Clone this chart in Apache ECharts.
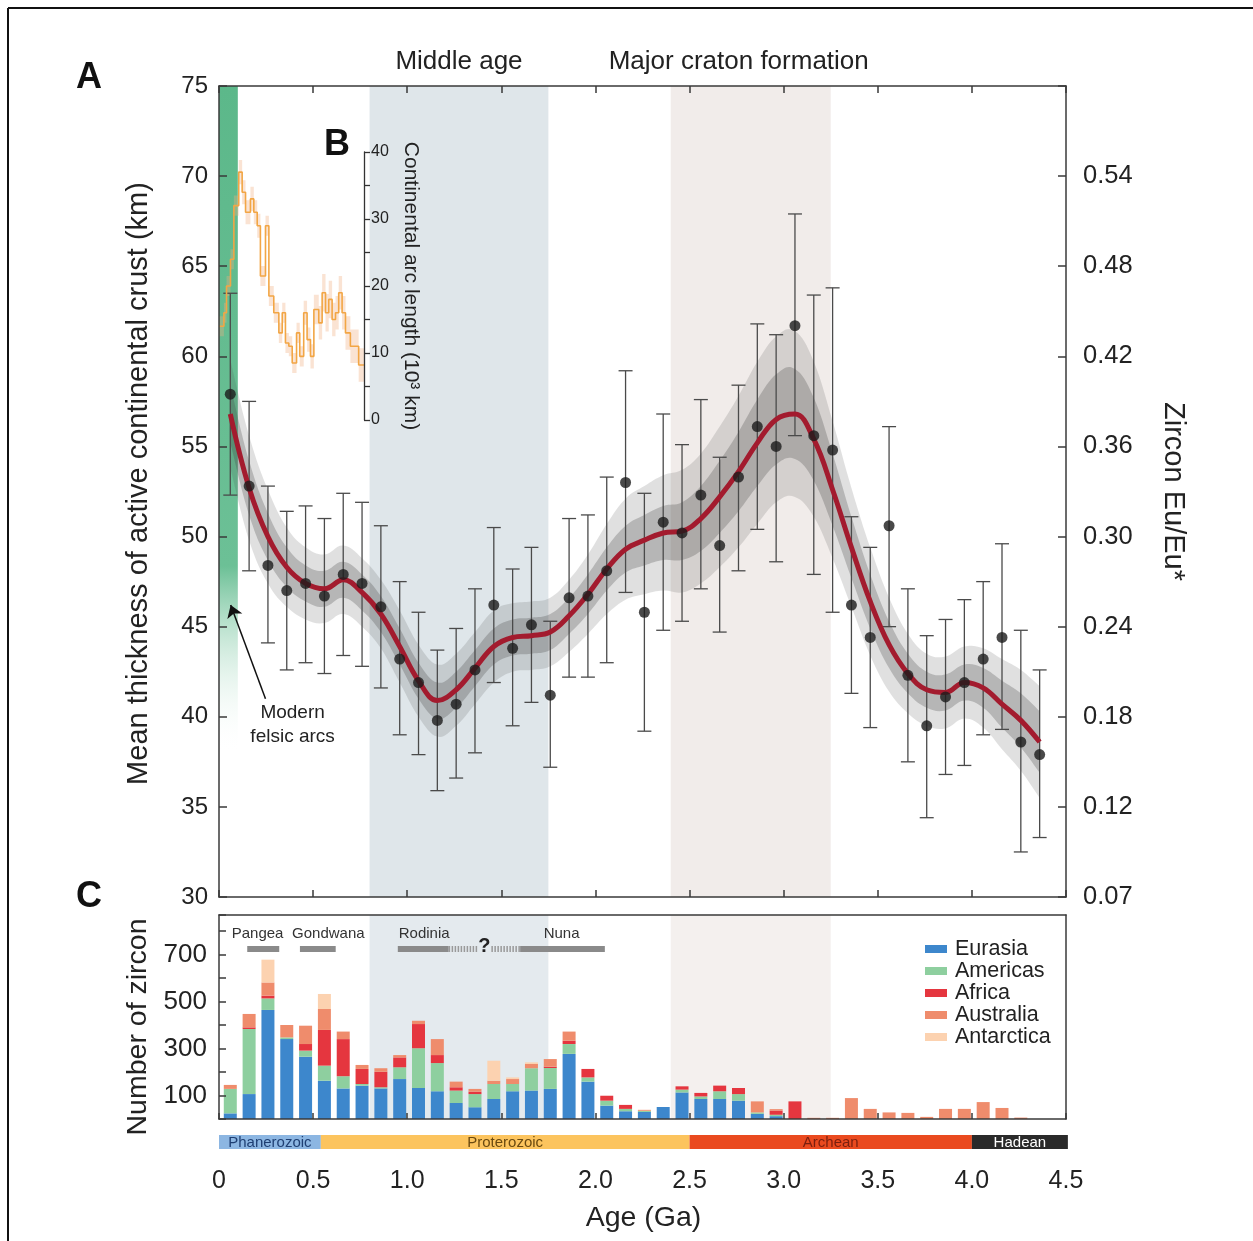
<!DOCTYPE html>
<html><head><meta charset="utf-8">
<script src="https://cdn.jsdelivr.net/npm/echarts@6/dist/echarts.min.js"></script>
<style>html,body{margin:0;padding:0;background:#fff}#c{width:1253px;height:1241px}</style>
</head><body><div id="c"></div><script>
// ---------- DATA ----------
const ages = [0.06,0.16,0.26,0.36,0.46,0.56,0.66,0.76,0.86,0.96,1.06,1.16,1.26,1.36,1.46,1.56,1.66,1.76,1.86,1.96,2.06,2.16,2.26,2.36,2.46,2.56,2.66,2.76,2.86,2.96,3.06,3.16,3.26,3.36,3.46,3.56,3.66,3.76,3.86,3.96,4.06,4.16,4.26,4.36];
const thickness = [57.9,52.8,48.4,47.0,47.4,46.7,47.9,47.4,46.1,43.2,41.9,39.8,40.7,42.6,46.2,43.8,45.1,41.2,46.6,46.7,48.1,53.0,45.8,50.8,50.2,52.3,49.5,53.3,56.1,55.0,61.7,55.6,54.8,46.2,44.4,50.6,42.3,39.5,41.1,41.9,43.2,44.4,38.6,37.9];
const errHigh = [63.5,57.5,52.8,51.4,51.7,51.0,52.4,51.9,50.6,47.5,45.8,43.7,44.9,47.1,50.5,48.2,49.4,45.3,51.0,51.2,53.3,59.2,52.4,56.8,55.1,57.6,54.4,58.4,61.8,61.2,67.9,63.4,63.8,51.1,49.4,56.1,47.1,44.5,45.4,46.5,47.5,49.6,44.8,42.6];
const errLow = [52.3,48.1,44.1,42.6,43.0,42.4,43.4,42.8,41.6,39.0,37.9,35.9,36.6,38.0,41.9,39.5,40.8,37.2,42.2,42.2,43.0,46.9,39.2,44.8,45.3,47.1,44.7,48.1,50.4,48.6,55.6,47.9,45.8,41.3,39.4,45.0,37.5,34.4,36.8,37.3,39.0,39.3,32.5,33.3];
const trend = [56.8,52.7,50.0,48.3,47.4,47.1,47.6,46.9,45.7,43.9,42.0,40.9,41.5,42.7,43.9,44.4,44.5,44.7,45.6,46.8,48.2,49.3,49.8,50.2,50.3,51.0,52.2,53.6,55.2,56.5,56.8,55.4,52.6,49.4,46.4,44.0,42.4,41.5,41.35,41.9,41.6,40.7,39.8,38.6];
const innerHalf = [1.6,1.5,1.3,1.1,1.0,1.0,1.0,1.0,1.0,1.0,1.0,1.0,1.0,1.0,1.0,1.0,1.0,1.0,1.0,1.1,1.2,1.3,1.4,1.5,1.6,1.8,2.0,2.2,2.4,2.5,2.5,2.3,2.0,1.7,1.5,1.3,1.1,1.0,1.0,1.0,1.1,1.3,1.5,1.7];
const outerHalf = [3.0,2.9,2.6,2.2,2.0,1.9,1.9,1.9,1.9,2.0,2.0,2.0,2.0,2.0,2.0,1.9,1.9,1.9,2.0,2.2,2.5,2.8,3.0,3.2,3.4,3.6,3.9,4.2,4.5,4.6,4.6,4.3,3.8,3.3,3.0,2.6,2.2,2.0,2.0,2.0,2.2,2.5,2.8,3.1];
const yLeftTicks = [30,35,40,45,50,55,60,65,70,75];
const euTickLabels = ['0.07','0.12','0.18','0.24','0.30','0.36','0.42','0.48','0.54',''];

// inset B: continental arc length (10^3 km)
const arcAge = [0.0,0.026,0.04,0.061,0.079,0.105,0.123,0.141,0.167,0.185,0.203,0.22,0.247,0.265,0.291,0.318,0.336,0.353,0.371,0.389,0.412,0.429,0.45,0.468,0.486,0.504,0.53,0.548,0.566,0.583,0.601,0.619,0.636,0.654,0.672,0.698,0.742,0.77];
const arcLen = [14,16,20,24,32,37,34,31,33,31,29,21.5,29,18.5,16,13,16,11.5,11,8.5,13,9.5,16,12,9.5,16.5,14.5,19,16,18,15,16,19,16,13,11,8.2,8.2];
const arcHalf = [1.5,1.5,1.5,1.5,1.5,1.8,1.8,1.8,1.8,1.8,1.8,1.5,1.5,1.5,1.5,1.5,1.5,1.5,1.5,1.5,1.5,1.5,1.8,1.8,1.8,2.2,2.5,2.8,2.8,2.8,2.5,2.5,2.5,2.5,2.5,2.5,2.5,2.5];
const arcTicks = [0,10,20,30,40];

// panel C: number of zircon per continent
const eurasia   = [24,106,464,340,265,163,130,142,130,170,132,118,68,50,85,118,121,128,277,159,57,33,30,51,113,85,85,78,22,12,0,0,0,0,0,0,0,0,0,0,0,0,0,0];
const americas  = [104,277,49,7,26,64,52,7,5,50,169,120,53,56,64,31,95,89,42,18,21,10,5,0,12,11,33,28,6,6,0,0,0,0,0,0,0,0,0,0,0,0,0,0];
const africa    = [0,7,12,0,28,152,158,64,66,42,103,34,14,10,0,0,0,6,14,36,21,17,0,0,14,15,24,26,0,18,75,0,0,0,0,0,0,0,0,0,0,0,0,0];
const australia = [17,57,56,53,78,89,32,17,15,10,14,68,24,12,14,21,18,32,39,0,0,0,4,0,0,0,0,0,47,6,0,5,5,89,43,28,26,9,43,43,72,47,6,0];
const antarctica= [0,0,97,0,0,64,0,0,0,0,0,0,0,0,85,7,7,0,0,0,0,0,0,0,0,0,0,0,0,0,0,0,0,0,0,0,0,0,0,0,0,0,0,0];
const continents = ['Eurasia','Americas','Africa','Australia','Antarctica'];
const zirconTickLabels = [100,300,500,700];

// supercontinents
const superNames = ['Pangea','Gondwana','Rodinia','Nuna'];
const superStart = [0.15,0.43,0.95,1.60];
const superEnd   = [0.32,0.62,1.22,2.05];
const superLabelX = [0.205,0.581,1.09,1.82];
const uncertainSpan = [1.22,1.60];

// geological eons
const eonNames = ['Phanerozoic','Proterozoic','Archean','Hadean'];
const eonStart = [0,0.541,2.5,4.0];
const eonEnd   = [0.541,2.5,4.0,4.51];

// shaded periods
const modernArcs = [0,0.1];
const middleAge = [0.8,1.75];
const cratonFormation = [2.4,3.25];
const xTickLabels = ['0','0.5','1.0','1.5','2.0','2.5','3.0','3.5','4.0','4.5'];

// ---------- STYLE ----------
const FONT = 'Liberation Sans, Arial, Helvetica, sans-serif';
const NARROW = 'Liberation Sans Narrow, Liberation Sans, Arial, sans-serif';
const frame = {color:'#3a3a3a', width:1.5};
const contColors = ['#3d87cc','#8ecf9f','#e5363f','#ef8c6c','#fcd2b0'];
const eonColors = ['#8cb6e2','#fcc45e','#ea4a1f','#2a2a2a'];
const eonText = ['#1f3f73','#6b4a10','#7a1f0f','#ffffff'];

const G0 = {left:219, top:86, width:847, height:811};
const G1 = {left:219, top:915, width:847, height:204};
const G2 = {left:219, top:1135, width:849, height:14};
const G3 = {left:219, top:152, width:145, height:268};

const pair = (xs, ys) => xs.map((x,i)=>[x, ys[i]]);

// smooth path helper (rendering only)
function bezier(pts, s){
  let d = '';
  for (let i=0;i<pts.length-1;i++){
    const p0 = pts[i-1]||pts[i], p1 = pts[i], p2 = pts[i+1], p3 = pts[i+2]||pts[i+1];
    const c1 = [p1[0]+(p2[0]-p0[0])*s, p1[1]+(p2[1]-p0[1])*s];
    const c2 = [p2[0]-(p3[0]-p1[0])*s, p2[1]-(p3[1]-p1[1])*s];
    d += ` C${c1[0]} ${c1[1]} ${c2[0]} ${c2[1]} ${p2[0]} ${p2[1]}`;
  }
  return d;
}

function bandSeries(half, color){
  return {
    type:'custom', xAxisIndex:0, yAxisIndex:0, z:2, silent:true,
    data: ages.map((a,i)=>[a, trend[i]-half[i], trend[i]+half[i]]),
    encode:{x:0, y:[1,2]},
    renderItem(params, api){
      if (params.dataIndex !== 0) return null;
      const up = ages.map((a,i)=>api.coord([a, trend[i]+half[i]]));
      const lo = ages.map((a,i)=>api.coord([a, trend[i]-half[i]])).reverse();
      const d = `M${up[0][0]} ${up[0][1]}` + bezier(up, 0.2) + ` L${lo[0][0]} ${lo[0][1]}` + bezier(lo, 0.2) + ' Z';
      return {type:'path', shape:{pathData:d}, style:{fill:color}};
    }
  };
}

const arcBandSeries = {
  type:'custom', xAxisIndex:5, yAxisIndex:5, z:2, silent:true,
  data: arcAge.map((a,i)=>[a, arcLen[i]-arcHalf[i], arcLen[i]+arcHalf[i]]),
  encode:{x:0, y:[1,2]},
  renderItem(params, api){
    if (params.dataIndex !== 0) return null;
    const n = arcAge.length;
    const up = [], lo = [];
    for (let i=0;i<n;i++){
      const xNext = i<n-1 ? arcAge[i+1] : arcAge[i];
      up.push(api.coord([arcAge[i], arcLen[i]+arcHalf[i]]));
      up.push(api.coord([xNext, arcLen[i]+arcHalf[i]]));
      lo.push(api.coord([arcAge[i], arcLen[i]-arcHalf[i]]));
      lo.push(api.coord([xNext, arcLen[i]-arcHalf[i]]));
    }
    return {type:'polygon', shape:{points: up.concat(lo.reverse())}, style:{fill:'rgba(240,175,130,0.35)'}};
  }
};

const errorBarSeries = {
  type:'custom', xAxisIndex:0, yAxisIndex:0, z:3, silent:true,
  data: ages.map((a,i)=>[a, errLow[i], errHigh[i]]),
  encode:{x:0, y:[1,2]},
  renderItem(params, api){
    const x = api.value(0);
    const p1 = api.coord([x, api.value(2)]);
    const p2 = api.coord([x, api.value(1)]);
    const w = 7, st = {stroke:'#4a4a4a', lineWidth:1.3};
    return {type:'group', children:[
      {type:'line', shape:{x1:p1[0],y1:p1[1],x2:p2[0],y2:p2[1]}, style:st},
      {type:'line', shape:{x1:p1[0]-w,y1:p1[1],x2:p1[0]+w,y2:p1[1]}, style:st},
      {type:'line', shape:{x1:p2[0]-w,y1:p2[1],x2:p2[0]+w,y2:p2[1]}, style:st}
    ]};
  }
};

const contData = [eurasia, americas, africa, australia, antarctica];
const barSeries = continents.map((c, k) => ({
  type:'custom', name:c, xAxisIndex:2, yAxisIndex:2, z:3, silent:true,
  itemStyle:{color:contColors[k]},
  data: ages.map((a,i)=>{
    let base = 0; for (let j=0;j<k;j++) base += contData[j][i];
    return [a, base, base + contData[k][i]];
  }),
  encode:{x:0, y:[1,2]},
  renderItem(params, api){
    const x = api.value(0), b = api.value(1), t = api.value(2);
    if (!(t > b)) return null;
    const p0 = api.coord([x, b]), p1 = api.coord([x, t]);
    return {type:'rect', shape:{x:p0[0]-6.5, y:p1[1], width:13, height:p0[1]-p1[1]}, style:{fill:contColors[k]}};
  }
}));

const superSeries = {
  type:'custom', xAxisIndex:2, yAxisIndex:2, z:4, silent:true,
  data: superNames.map((n,i)=>[superStart[i], superEnd[i], superLabelX[i], i]),
  renderItem(params, api){
    const i = api.value(3);
    const a = api.coord([api.value(0), 723]);
    const b = api.coord([api.value(1), 723]);
    const t = api.coord([api.value(2), 787]);
    const ch = [
      {type:'rect', shape:{x:a[0], y:a[1]-3, width:b[0]-a[0], height:6}, style:{fill:'#8a8a8a'}},
      {type:'text', style:{text:superNames[i], x:t[0], y:t[1], fill:'#333', fontSize:15, fontFamily:FONT, align:'center', verticalAlign:'middle', textAlign:'center', textVerticalAlign:'middle'}}
    ];
    if (i === 2) {
      const u0 = api.coord([uncertainSpan[0], 723]);
      const u1 = api.coord([uncertainSpan[1], 723]);
      const um = api.coord([(uncertainSpan[0]+uncertainSpan[1])/2, 735]);
      ch.push({type:'line', shape:{x1:u0[0], y1:u0[1], x2:um[0]-7, y2:u1[1]}, style:{stroke:'#9a9a9a', lineWidth:6, lineDash:[1.5,1.5]}});
      ch.push({type:'line', shape:{x1:um[0]+7, y1:u0[1], x2:u1[0], y2:u1[1]}, style:{stroke:'#9a9a9a', lineWidth:6, lineDash:[1.5,1.5]}});
      ch.push({type:'text', style:{text:'?', x:um[0], y:um[1], fill:'#222', fontSize:20, fontWeight:'bold', fontFamily:FONT, align:'center', verticalAlign:'middle', textAlign:'center', textVerticalAlign:'middle'}});
    }
    return {type:'group', children:ch};
  }
};

const eonSeries = {
  type:'custom', xAxisIndex:4, yAxisIndex:4, silent:true,
  data: eonNames.map((n,i)=>[eonStart[i], eonEnd[i], i]),
  renderItem(params, api){
    const i = api.value(2);
    const a = api.coord([api.value(0), 1]);
    const b = api.coord([api.value(1), 0]);
    return {type:'group', children:[
      {type:'rect', shape:{x:a[0], y:a[1], width:b[0]-a[0], height:b[1]-a[1]}, style:{fill:eonColors[i]}},
      {type:'text', style:{text:eonNames[i], x:(a[0]+b[0])/2, y:(a[1]+b[1])/2+1, fill:eonText[i], fontSize:15, fontFamily:NARROW, align:'center', verticalAlign:'middle', textAlign:'center', textVerticalAlign:'middle'}}
    ]};
  }
};

const noZero = (ls) => ({onZero:false, lineStyle:ls});

const option = {
  animation:false,
  backgroundColor:'#ffffff',
  textStyle:{fontFamily:FONT},
  grid:[
    Object.assign({containLabel:false}, G0),
    Object.assign({containLabel:false}, G1),
    Object.assign({containLabel:false}, G2),
    Object.assign({containLabel:false}, G3)
  ],
  legend:{
    data: continents, orient:'vertical', left:920, top:933, icon:'rect',
    itemWidth:22, itemHeight:8, itemGap:0, selectedMode:false,
    textStyle:{fontSize:21.5, lineHeight:21, color:'#222', fontFamily:FONT, padding:[0,0,0,3]}
  },
  xAxis:[
    {gridIndex:0, type:'value', min:0, max:4.5, interval:0.5, position:'bottom', axisLine:noZero(frame), axisTick:{inside:true, length:7, lineStyle:frame}, axisLabel:{show:false}, splitLine:{show:false}, z:5},
    {gridIndex:0, type:'value', min:0, max:4.5, interval:0.5, position:'top', axisLine:noZero(frame), axisTick:{inside:true, length:7, lineStyle:frame}, axisLabel:{show:false}, splitLine:{show:false}, z:5},
    {gridIndex:1, type:'value', min:0, max:4.5, interval:0.5, position:'bottom', axisLine:noZero(frame), axisTick:{inside:true, length:6, lineStyle:frame}, axisLabel:{show:false}, splitLine:{show:false}, z:5},
    {gridIndex:1, type:'value', min:0, max:4.5, interval:0.5, position:'top', axisLine:noZero(frame), axisTick:{show:false}, axisLabel:{show:false}, splitLine:{show:false}, z:5},
    {gridIndex:2, type:'value', min:0, max:4.5*849/847, interval:0.5, position:'bottom', axisLine:{show:false, onZero:false}, axisTick:{show:false}, splitLine:{show:false},
     axisLabel:{fontSize:25, color:'#222', margin:20, fontFamily:FONT, formatter:(v)=>{const k=Math.round(v/0.5); return (Math.abs(v-k*0.5)<1e-6 && k<xTickLabels.length)?xTickLabels[k]:'';}},
     name:'Age (Ga)', nameLocation:'middle', nameGap:55, nameTextStyle:{fontSize:28.5, color:'#222', fontFamily:FONT}},
    {gridIndex:3, type:'value', min:0, max:145/188.22, show:false, axisLine:{onZero:false}}
  ],
  yAxis:[
    {gridIndex:0, type:'value', min:30, max:75, interval:5, position:'left', axisLine:noZero(frame), axisTick:{inside:true, length:8, lineStyle:frame}, splitLine:{show:false}, z:5,
     axisLabel:{fontSize:24, color:'#222', margin:11, fontFamily:FONT, formatter:(v)=> yLeftTicks.indexOf(v)>=0 ? String(v) : ''},
     name:'Mean thickness of active continental crust (km)', nameLocation:'middle', nameRotate:90, nameGap:66, nameTextStyle:{fontSize:29, color:'#222', fontFamily:FONT, padding:[0,0,0,16]}},
    {gridIndex:0, type:'value', min:30, max:75, interval:5, position:'right', axisLine:noZero(frame), axisTick:{inside:true, length:8, lineStyle:frame}, splitLine:{show:false}, z:5,
     axisLabel:{fontSize:25.5, color:'#222', margin:17, fontFamily:FONT, formatter:(v)=>{const k=Math.round((v-30)/5); return euTickLabels[k]||'';}},
     name:'Zircon Eu/Eu*', nameLocation:'middle', nameRotate:-90, nameGap:92, nameTextStyle:{fontSize:29, color:'#222', fontFamily:FONT}},
    {gridIndex:1, type:'value', min:0, max:868, interval:100, position:'left', axisLine:noZero(frame), axisTick:{inside:true, length:7, lineStyle:frame}, splitLine:{show:false}, z:5,
     axisLabel:{fontSize:26, color:'#222', margin:12, fontFamily:FONT, formatter:(v)=> zirconTickLabels.indexOf(v)>=0 ? String(v) : ''},
     name:'Number of zircon', nameLocation:'middle', nameRotate:90, nameGap:66, nameTextStyle:{fontSize:28.5, color:'#222', fontFamily:FONT, padding:[0,20,0,0]}},
    {gridIndex:1, type:'value', min:0, max:868, position:'right', axisLine:noZero(frame), axisTick:{show:false}, axisLabel:{show:false}, splitLine:{show:false}, z:5},
    {gridIndex:2, type:'value', min:0, max:1, show:false, axisLine:{onZero:false}},
    {gridIndex:3, type:'value', min:0, max:40, interval:5, position:'right', axisLine:noZero({color:'#333', width:1.3}), axisTick:{inside:false, length:6, lineStyle:{color:'#333', width:1.3}}, splitLine:{show:false}, z:5,
     axisLabel:{fontSize:16, color:'#222', margin:7, fontFamily:FONT, formatter:(v)=> arcTicks.indexOf(v)>=0 ? String(v):''},
     name:'Continental arc length (10³ km)', nameLocation:'middle', nameRotate:-90, nameGap:36, nameTextStyle:{fontSize:21, color:'#222', fontFamily:FONT}}
  ],
  series:[
    {type:'line', name:'bgA', xAxisIndex:0, yAxisIndex:0, data:[], silent:true,
     markArea:{silent:true, data:[
       [{xAxis:modernArcs[0], yAxis:75, itemStyle:{color:{type:'linear',x:0,y:0,x2:0,y2:1,colorStops:[{offset:0,color:'#5cb88a'},{offset:0.72,color:'#6cc096'},{offset:1,color:'rgba(255,255,255,0)'}]}}}, {xAxis:modernArcs[1], yAxis:38}],
       [{xAxis:middleAge[0], yAxis:75, itemStyle:{color:'#dfe6ea'}, label:{show:true, position:'top', distance:11, formatter:'Middle age', fontSize:26, color:'#222', fontFamily:FONT}}, {xAxis:middleAge[1], yAxis:30}],
       [{xAxis:cratonFormation[0], yAxis:75, itemStyle:{color:'#f1ecea'}, label:{show:true, position:'top', distance:11, offset:[-12,0], formatter:'Major craton formation', fontSize:26, color:'#222', fontFamily:FONT}}, {xAxis:cratonFormation[1], yAxis:30}]
     ]}},
    {type:'line', name:'bgC', xAxisIndex:2, yAxisIndex:2, data:[], silent:true,
     markArea:{silent:true, data:[
       [{xAxis:middleAge[0], yAxis:868, itemStyle:{color:'#e4eaee'}}, {xAxis:middleAge[1], yAxis:0}],
       [{xAxis:cratonFormation[0], yAxis:868, itemStyle:{color:'#f4f0ee'}}, {xAxis:cratonFormation[1], yAxis:0}]
     ]}},
    bandSeries(outerHalf, 'rgba(70,70,70,0.17)'),
    bandSeries(innerHalf, 'rgba(60,60,60,0.26)'),
    errorBarSeries,
    {type:'line', name:'trend', xAxisIndex:0, yAxisIndex:0, smooth:0.4, symbol:'none', z:4, silent:true,
     data: pair(ages, trend), lineStyle:{color:'#a31b2e', width:5}},
    {type:'scatter', name:'thickness', xAxisIndex:0, yAxisIndex:0, z:5, symbolSize:11, silent:true,
     itemStyle:{color:'#1b1b1b'}, data: pair(ages, thickness),
     markLine:{silent:true, symbol:['none','arrow'], symbolSize:12, lineStyle:{color:'#111', width:1.5, type:'solid'}, label:{show:false},
       data:[[{coord:[0.247,41.0]},{coord:[0.062,46.2]}]]},
     markPoint:{silent:true, data:[{coord:[0.391,39.55], symbol:'rect', symbolSize:1, itemStyle:{color:'rgba(0,0,0,0)'},
       label:{show:true, position:'inside', formatter:'Modern\nfelsic arcs', fontSize:19, lineHeight:24, color:'#222', fontFamily:FONT, align:'center'}}]}},
    arcBandSeries,
    {type:'line', name:'arc', xAxisIndex:5, yAxisIndex:5, step:'end', symbol:'none', silent:true, z:3,
     data: pair(arcAge, arcLen), lineStyle:{color:'#f2a645', width:1.6}},
    ...barSeries,
    superSeries,
    eonSeries
  ],
  graphic:[
    {type:'line', shape:{x1:8, y1:8, x2:1253, y2:8}, style:{stroke:'#111', lineWidth:2}},
    {type:'line', shape:{x1:8, y1:8, x2:8, y2:1241}, style:{stroke:'#111', lineWidth:2}},
    {type:'text', x:89, y:78, style:{text:'A', fontSize:36, fontWeight:'bold', fontFamily:FONT, fill:'#111', align:'center', verticalAlign:'middle', textAlign:'center', textVerticalAlign:'middle'}},
    {type:'text', x:337, y:145, style:{text:'B', fontSize:36, fontWeight:'bold', fontFamily:FONT, fill:'#111', align:'center', verticalAlign:'middle', textAlign:'center', textVerticalAlign:'middle'}},
    {type:'text', x:89, y:897, style:{text:'C', fontSize:36, fontWeight:'bold', fontFamily:FONT, fill:'#111', align:'center', verticalAlign:'middle', textAlign:'center', textVerticalAlign:'middle'}}
  ]
};
const chart = echarts.init(document.getElementById('c'), null, {renderer:'canvas'});
chart.setOption(option);
</script></body></html>
